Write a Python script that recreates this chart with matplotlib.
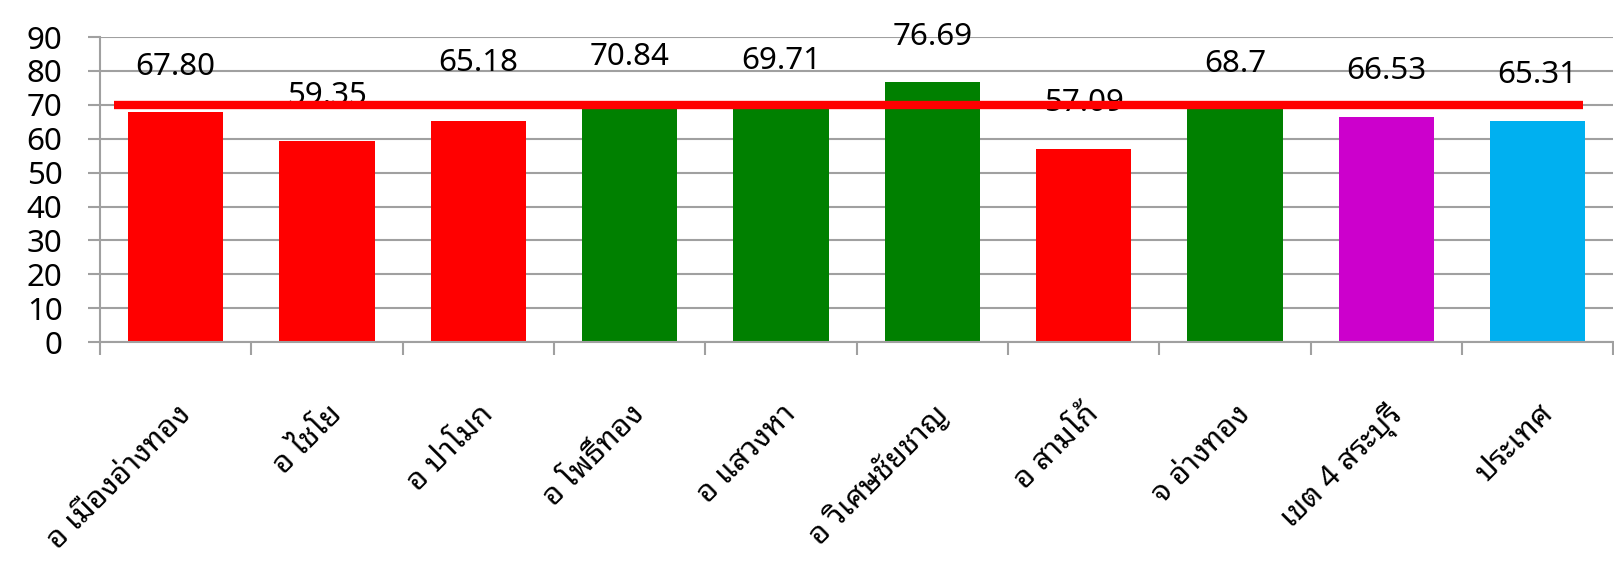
import matplotlib
matplotlib.use("Agg")
import matplotlib.pyplot as plt
from matplotlib import font_manager as fm
from matplotlib.ft2font import FT2Font

# ---- data ----
categories = ["อ เมืองอ่างทอง", "อ ไชโย", "อ ป่าโมก", "อ โพธิ์ทอง", "อ แสวงหา",
              "อ วิเศษชัยชาญ", "อ สามโก้", "จ อ่างทอง", "เขต 4 สระบุรี", "ประเทศ"]
values = [67.80, 59.35, 65.18, 70.84, 69.71, 76.69, 57.09, 68.7, 66.53, 65.31]
value_labels = ["67.80", "59.35", "65.18", "70.84", "69.71", "76.69", "57.09", "68.7", "66.53", "65.31"]
target = 70
yticks = [0, 10, 20, 30, 40, 50, 60, 70, 80, 90]

# ---- layout / style ----
bar_colors = ["#FF0000", "#FF0000", "#FF0000", "#008000", "#008000",
              "#008000", "#FF0000", "#008000", "#CC00CC", "#00B0F0"]
label_y = [81.1, 72.6, 82.2, 84.2, 83.0, 89.9, 70.5, 81.9, 80.1, 78.8]

# find a font with Thai glyphs (prefer looped forms like Tahoma)
thai_fonts = {}
for f in fm.fontManager.ttflist:
    try:
        cm = FT2Font(f.fname).get_charmap()
        if 0x0E2D in cm and 0x0E40 in cm:
            thai_fonts[f.name] = f.fname
    except Exception:
        pass
thai_family = None
preferred = ["Tahoma", "Noto Sans Thai Looped", "Loma", "Garuda", "Waree", "Umpush",
             "Sawasdee", "Norasi", "Kinnari", "Noto Serif Thai", "Noto Sans Thai UI",
             "Noto Sans Thai"]
for p in preferred:
    if p in thai_fonts:
        thai_family = p
        break
if thai_family is None:
    looped = [n for n in thai_fonts if "Looped" in n]
    if looped:
        thai_family = sorted(looped)[0]
    elif thai_fonts:
        thai_family = sorted(thai_fonts)[0]

num_family = ["Noto Sans", "DejaVu Sans"]
cat_family = ([thai_family] if thai_family else []) + ["Noto Sans", "DejaVu Sans"]

fig = plt.figure(figsize=(16.14, 5.61), dpi=100)
ax = fig.add_axes([0.062, 0.390, 0.9375, 0.544])

x = list(range(len(categories)))
ax.bar(x, values, width=0.63, color=bar_colors, zorder=2)

for xi, txt, ly in zip(x, value_labels, label_y):
    ax.text(xi, ly, txt, ha="center", va="center", fontsize=22.5,
            family=num_family, color="black", zorder=3)

ax.plot([-0.41, 9.30], [target, target], color="#FF0000", linewidth=6, zorder=4,
        solid_capstyle="butt")

ax.set_xlim(-0.5, 9.5)
ax.set_ylim(0, 90)
ax.set_yticks(yticks)
ax.set_yticklabels([str(v) for v in yticks], fontsize=22.5, family=num_family)
ax.yaxis.grid(True, color="#A0A0A0", linewidth=1.5, zorder=0)
ax.set_axisbelow(True)

# category boundaries as major ticks, labels at centers as minor
ax.set_xticks([i - 0.5 for i in range(len(categories) + 1)])
ax.set_xticklabels([])
ax.set_xticks(x, minor=True)
ax.set_xticklabels(categories, minor=True, rotation=45, ha="right",
                   rotation_mode="anchor", fontsize=22, family=cat_family)
ax.tick_params(axis="x", which="minor", length=0, pad=41)
ax.tick_params(axis="x", which="major", length=9, width=1.5, color="#A0A0A0")
ax.tick_params(axis="y", length=9, width=1.5, color="#A0A0A0", pad=18)

for s in ["top", "right"]:
    ax.spines[s].set_visible(False)
for s in ["left", "bottom"]:
    ax.spines[s].set_color("#A0A0A0")
    ax.spines[s].set_linewidth(1.5)

fig.savefig("out.png", dpi=100)
